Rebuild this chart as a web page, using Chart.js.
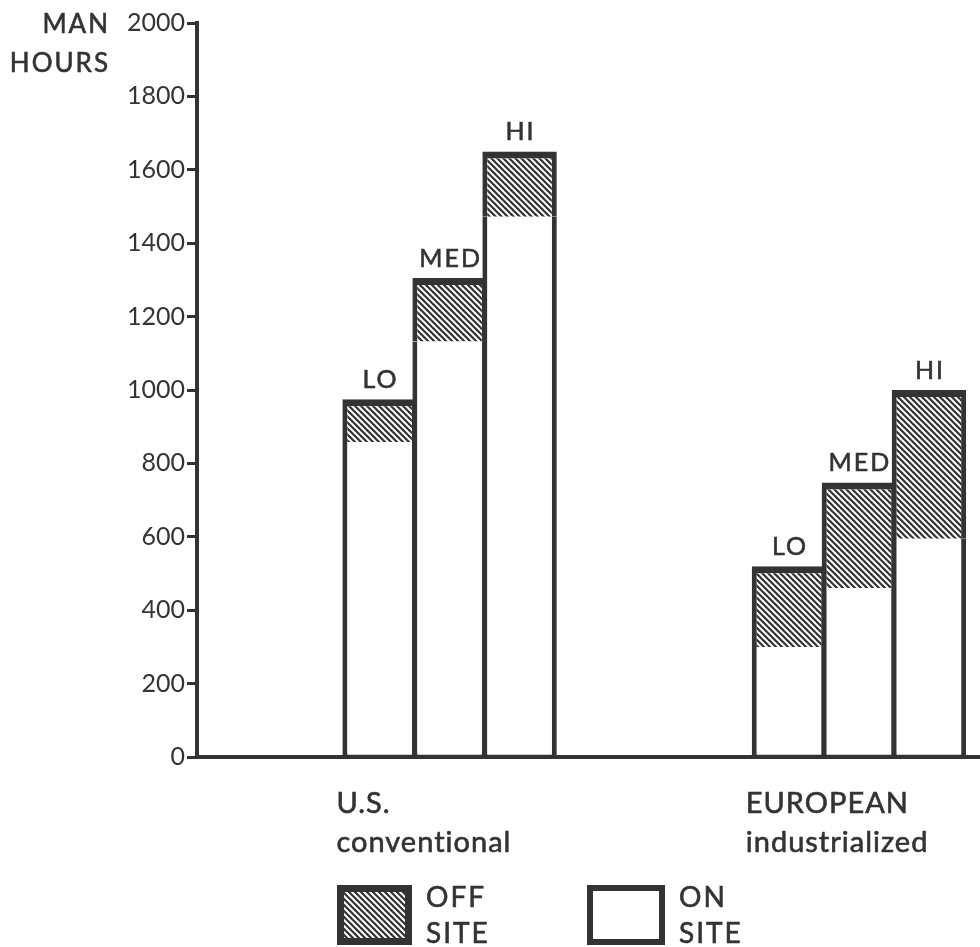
<!DOCTYPE html>
<html>
<head>
<meta charset="utf-8">
<script src="https://cdn.jsdelivr.net/npm/chart.js@4.4.1/dist/chart.umd.min.js"></script>
<style>
html, body { margin: 0; padding: 0; background: #fff; }
#wrap { position: relative; width: 980px; height: 947px; }
</style>
</head>
<body>
<div id="wrap"><canvas id="chart"></canvas></div>
<script>
// man hours
const levels = ['LO', 'MED', 'HI'];
const groupNames = [['U.S.', 'conventional'], ['EUROPEAN', 'industrialized']];
const usOnSite = [858, 1132, 1472];
const usOffSite = [117, 173, 178];
const euOnSite = [300, 460, 595];
const euOffSite = [220, 288, 405];
const yMin = 0, yMax = 2000, yStep = 200;
const legendLabels = [['OFF', 'SITE'], ['ON', 'SITE']];

const INK = '#333';
const FONT = 'Lato, "DejaVu Sans", sans-serif';

// x scale: one unit per bar, groups spaced apart
const groupStart = 2.61;
const groupStride = 5.85;
const xMax = 11.19;

const canvas = document.getElementById('chart');

function hatchPattern() {
    const s = 6;
    const c = document.createElement('canvas');
    c.width = s; c.height = s;
    const g = c.getContext('2d');
    g.fillStyle = INK;
    g.fillRect(0, 0, s, s);
    g.strokeStyle = '#fff';
    g.lineWidth = 2;
    for (let k = -1; k <= 1; k++) {
        g.beginPath();
        g.moveTo(k * s - 1, -1);
        g.lineTo(k * s + s + 1, s + 1);
        g.stroke();
    }
    return canvas.getContext('2d').createPattern(c, 'repeat');
}
const hatch = hatchPattern();

function points(group, values) {
    return values.map((v, j) => ({ x: groupStart + group * groupStride + j, y: v }));
}

const onSiteData = points(0, usOnSite).concat(points(1, euOnSite));
const offSiteData = points(0, usOffSite).concat(points(1, euOffSite));

// text a bit heavier, like the typewriter-era sans in the scan
function heavyText(ctx, text, x, y) {
    ctx.fillText(text, x, y);
    ctx.strokeText(text, x, y);
}

// labels above bars, group names, axis title and legend
const annotate = {
    id: 'annotate',
    afterDraw(chart) {
        const ctx = chart.ctx;
        const area = chart.chartArea;
        const bars = chart.getDatasetMeta(1).data;
        ctx.save();
        ctx.fillStyle = INK;
        ctx.strokeStyle = INK;
        ctx.lineWidth = 0.6;
        ctx.textBaseline = 'alphabetic';

        ctx.font = '25px ' + FONT;
        ctx.letterSpacing = '2px';
        ctx.textAlign = 'center';
        bars.forEach((b, i) => heavyText(ctx, levels[i % levels.length], b.x + 1, b.y - 11));

        ctx.font = '29px ' + FONT;
        ctx.letterSpacing = '1px';
        ctx.textAlign = 'left';
        groupNames.forEach((lines, g) => {
            const b = bars[g * levels.length];
            const left = b.x - b.width / 2 - 6;
            heavyText(ctx, lines[0], left, area.bottom + 56);
            heavyText(ctx, lines[1], left, area.bottom + 95);
        });

        ctx.font = '26px ' + FONT;
        ctx.textAlign = 'right';
        ctx.letterSpacing = '2px';
        heavyText(ctx, 'MAN', 110, 33);
        heavyText(ctx, 'HOURS', 110, 72);

        // legend boxes
        const top = area.bottom + 128;
        const boxes = [
            { x: 337, w: 75, fill: hatch, inset: 7 },
            { x: 587, w: 78, fill: '#fff', inset: 6 }
        ];
        ctx.font = '28px ' + FONT;
        ctx.letterSpacing = '2px';
        ctx.textAlign = 'left';
        boxes.forEach((bx, i) => {
            ctx.fillStyle = INK;
            ctx.fillRect(bx.x, top, bx.w, 60);
            ctx.fillStyle = bx.fill;
            ctx.fillRect(bx.x + bx.inset, top + bx.inset, bx.w - 2 * bx.inset, 60 - 2 * bx.inset);
            ctx.fillStyle = INK;
            heavyText(ctx, legendLabels[i][0], bx.x + bx.w + 14, top + 22);
            heavyText(ctx, legendLabels[i][1], bx.x + bx.w + 14, top + 58);
        });
        ctx.restore();
    }
};

new Chart(canvas, {
    type: 'bar',
    data: {
        datasets: [
            {
                label: 'ON SITE',
                data: onSiteData,
                backgroundColor: '#fff',
                borderColor: INK,
                borderWidth: { left: 5, right: 5, top: 0, bottom: 2 },
                borderSkipped: false,
                barPercentage: 1.064,
                categoryPercentage: 1
            },
            {
                label: 'OFF SITE',
                data: offSiteData,
                backgroundColor: hatch,
                borderColor: INK,
                borderWidth: { left: 5, right: 5, top: 7, bottom: 0 },
                borderSkipped: false,
                barPercentage: 1.064,
                categoryPercentage: 1
            }
        ]
    },
    options: {
        responsive: true,
        maintainAspectRatio: false,
        animation: false,
        layout: { padding: { top: 23, right: 0, bottom: 0, left: 0 } },
        plugins: {
            legend: { display: false },
            tooltip: { enabled: false }
        },
        scales: {
            x: {
                type: 'linear',
                min: 0,
                max: xMax,
                offset: false,
                stacked: true,
                grid: { display: false },
                ticks: { display: false },
                border: { display: true, color: INK, width: 4 },
                afterFit(s) { s.height = 190; }
            },
            y: {
                min: yMin,
                max: yMax,
                stacked: true,
                ticks: {
                    stepSize: yStep,
                    color: INK,
                    padding: 2,
                    font: { family: FONT, size: 25 },
                    callback: v => String(v)
                },
                grid: { drawOnChartArea: false, tickLength: 10, tickWidth: 3, tickColor: INK },
                border: { display: true, color: INK, width: 4 },
                afterFit(s) { s.width = 197; }
            }
        }
    },
    plugins: [annotate]
});
</script>
</body>
</html>
